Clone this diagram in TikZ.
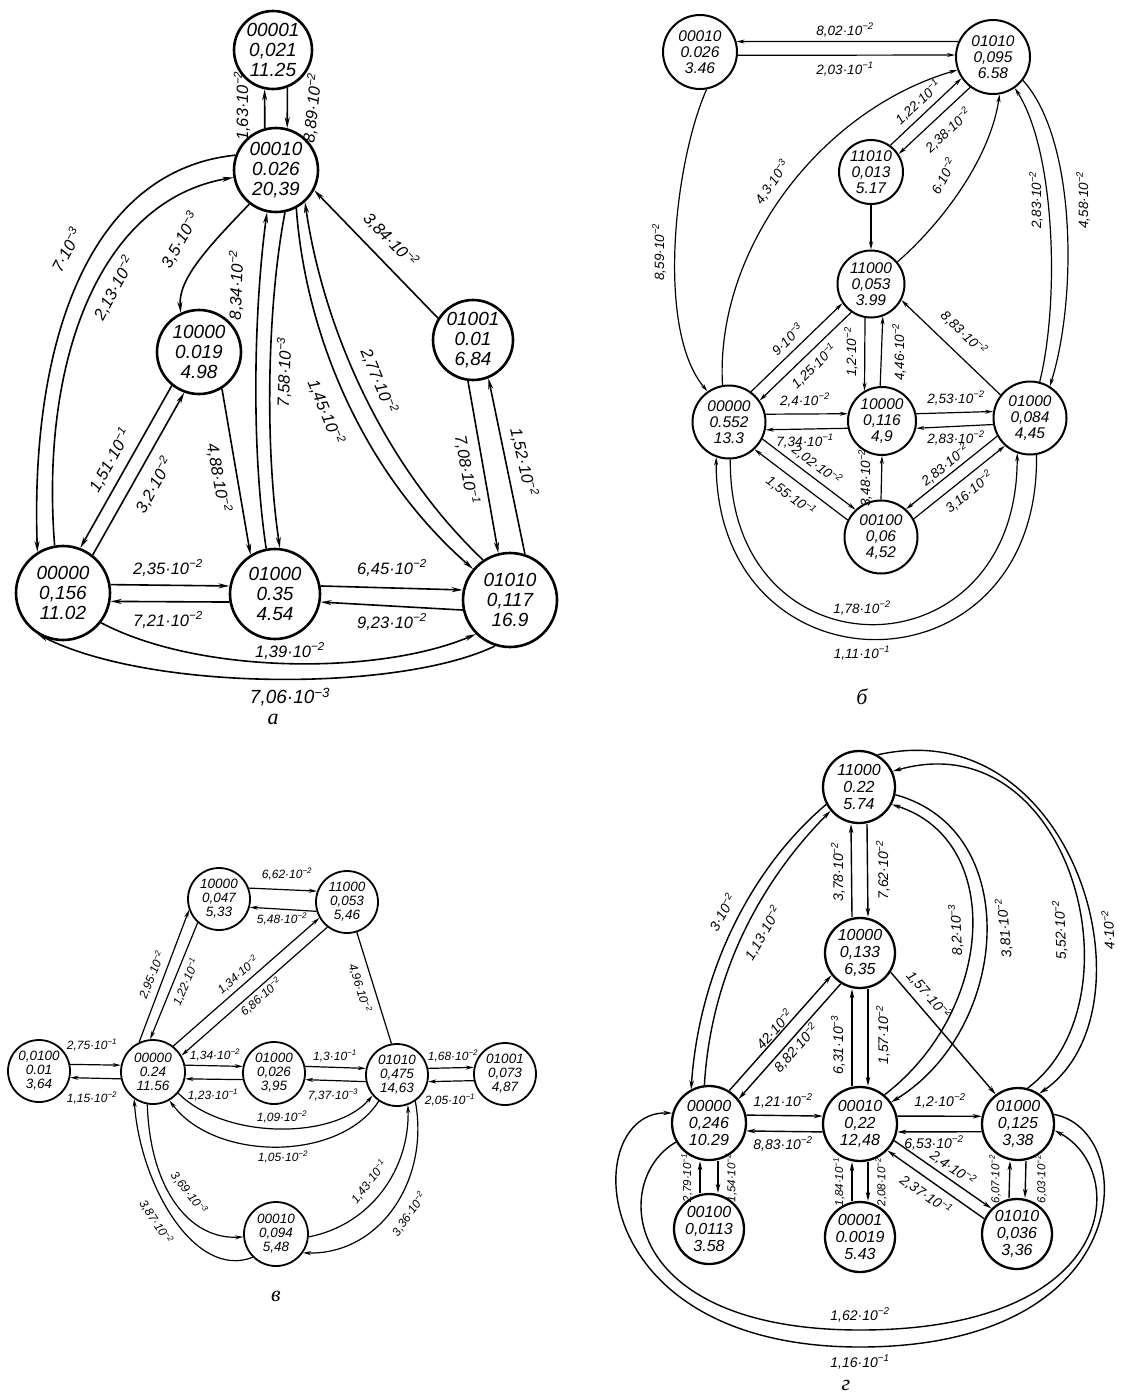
\documentclass[tikz,border=0pt]{standalone}
\usepackage{fontspec}
\setmainfont{Liberation Sans}
\newfontfamily\capf{Liberation Serif}
\usetikzlibrary{arrows.meta}
\newcommand\pwr[2]{#1·10\textsuperscript{−#2}}
\begin{document}
\begin{tikzpicture}[x=1pt,y=-1pt,
  nA/.style={circle,draw,line width=2.6pt,inner sep=0pt,align=center,font=\fontsize{19}{20}\selectfont\itshape},
  nB/.style={circle,draw,line width=2pt,inner sep=0pt,align=center,font=\fontsize{15.5}{16}\selectfont\itshape},
  nC/.style={circle,draw,line width=1.8pt,inner sep=0pt,align=center,font=\fontsize{13.5}{14}\selectfont\itshape},
  nD/.style={circle,draw,line width=2.3pt,inner sep=0pt,align=center,font=\fontsize{16}{17}\selectfont\itshape},
  lA/.style={inner sep=0pt,font=\fontsize{16.5}{17}\selectfont\itshape},
  lB/.style={inner sep=0pt,font=\fontsize{13.5}{14}\selectfont\itshape},
  lC/.style={inner sep=0pt,font=\fontsize{12}{12}\selectfont\itshape},
  lD/.style={inner sep=0pt,font=\fontsize{14}{14}\selectfont\itshape},
  lDs/.style={inner sep=0pt,font=\fontsize{11.5}{12}\selectfont\itshape},
  eA/.style={line width=1.6pt,-{Stealth[length=11pt,width=5pt]}},
  eB/.style={line width=1.2pt,-{Stealth[length=8pt,width=4pt]}},
  eC/.style={line width=1.2pt,-{Stealth[length=8pt,width=4pt]}},
  eD/.style={line width=1.4pt,-{Stealth[length=9pt,width=4.5pt]}},
  capsty/.style={font=\fontsize{22}{22}\selectfont\capf\itshape}]
\useasboundingbox (0,0) rectangle (1121,1395);
\fill[white] (0,0) rectangle (1121,1395);
% ================= panel a =================
\node[nA,minimum size=78pt] (A1) at (273,50) {00001\\0,021\\11.25};
\node[nA,minimum size=84pt] (A2) at (276,170) {00010\\0.026\\20,39};
\node[nA,minimum size=84pt] (A3) at (199,352) {10000\\0.019\\4.98};
\node[nA,minimum size=80pt] (A4) at (473,340) {01001\\0.01\\6,84};
\node[nA,minimum size=94pt] (A5) at (63,593) {00000\\0,156\\11.02};
\node[nA,minimum size=90pt] (A6) at (275,594) {01000\\0.35\\4.54};
\node[nA,minimum size=94pt] (A7) at (510,600) {01010\\0,117\\16.9};
\draw[eA] (A2.105) -- (A1.258);
\draw[eA] (A1.291) -- (A2.75);
\node[lA,rotate=90] (la1) at (242,106) {\pwr{1,63}{2}};
\node[lA,rotate=84] (la2) at (312,108) {\pwr{8,89}{2}};
\draw[eA] (A2.160) .. controls (90,170) and (30,340) .. (A5.122);
\draw[eA] (A5.100) .. controls (40,360) and (100,200) .. (A2.190);
\node[lA,rotate=62] (la3) at (66,250) {\pwr{7}{3}};
\node[lA,rotate=62] (la4) at (114,288) {\pwr{2,13}{2}};
\draw[eA] (A2.232) .. controls (205,250) and (178,280) .. (A3.115);
\node[lA,rotate=60] (la5) at (180,240) {\pwr{3,5}{3}};
\draw[eA] (A6.101) .. controls (250,440) and (255,300) .. (A2.258);
\draw[eA] (A2.282) .. controls (268,300) and (264,440) .. (A6.84);
\node[lA,rotate=88] (la6) at (236,285) {\pwr{8,34}{2}};
\node[lA,rotate=88] (la7) at (284,372) {\pwr{7,58}{3}};
\draw[eA] (A2.298) .. controls (305,330) and (360,470) .. (A7.140);
\draw[eA] (A7.124) .. controls (378,460) and (322,320) .. (A2.312);
\node[lA,rotate=-68] (la8) at (326,412) {\pwr{1,45}{2}};
\node[lA,rotate=-68] (la9) at (379,381) {\pwr{2,77}{2}};
\draw[eA] (A4.148) -- (A2.-28);
\node[lA,rotate=-46] (la10) at (391,240) {\pwr{3,84}{2}};
\draw[eA] (A4.-97) -- (A7.104);
\draw[eA] (A7.72) -- (A4.-68);
\node[lA,rotate=-80] (la11) at (467,470) {\pwr{7,08}{1}};
\node[lA,rotate=-77] (la12) at (524,462) {\pwr{1,52}{2}};
\draw[eA] (A3.231) -- (A5.69);
\draw[eA] (A5.52) -- (A3.250);
\node[lA,rotate=61] (la13) at (110,460) {\pwr{1,51}{1}};
\node[lA,rotate=61] (la14) at (154,485) {\pwr{3,2}{2}};
\draw[eA] (A3.-58) -- (A6.122);
\node[lA,rotate=-80] (la15) at (219,478) {\pwr{4,88}{2}};
\draw[eA] (A5.10) -- (A6.170);
\draw[eA] (A6.190) -- (A5.350);
\node[lA] (la16) at (168,568) {\pwr{2,35}{2}};
\node[lA] (la17) at (168,620) {\pwr{7,21}{2}};
\draw[eA] (A6.10) -- (A7.168);
\draw[eA] (A7.192) -- (A6.350);
\node[lA] (la18) at (392,568) {\pwr{6,45}{2}};
\node[lA] (la19) at (392,622) {\pwr{9,23}{2}};
\draw[eA] (A5.-38) .. controls (200,675) and (380,675) .. (A7.-135);
\draw[eA] (A7.-108) .. controls (400,692) and (150,692) .. (A5.-122);
\node[lA] (la20) at (290,651) {\pwr{1,39}{2}};
\node[lA,font=\fontsize{19}{19}\selectfont\itshape] (la21) at (290,697) {\pwr{7,06}{3}};
\node[capsty] (capa) at (273,719) {а};
% ================= panel b =================
\node[nB,minimum size=74pt] (B1) at (700,52) {00010\\0.026\\3.46};
\node[nB,minimum size=74pt] (B2) at (993,57) {01010\\0,095\\6.58};
\node[nB,minimum size=64pt] (B3) at (871,172) {11010\\0,013\\5.17};
\node[nB,minimum size=67pt] (B4) at (871,284) {11000\\0,053\\3.99};
\node[nB,minimum size=73pt] (B5) at (729,422) {00000\\0.552\\13.3};
\node[nB,minimum size=68pt] (B6) at (882,421) {10000\\0,116\\4,9};
\node[nB,minimum size=73pt] (B7) at (1030,418) {01000\\0,084\\4,45};
\node[nB,minimum size=73pt] (B8) at (881,537) {00100\\0,06\\4,52};
\draw[eB] (B2.156) -- (B1.16);
\draw[eB] (B1.-5) -- (B2.177);
\node[lB] (lb1) at (845,30) {\pwr{8,02}{2}};
\node[lB] (lb2) at (845,69) {\pwr{2,03}{1}};
\draw[eB] (B1.-80) .. controls (675,160) and (655,330) .. (B5.125);
\node[lB,rotate=90] (lb3) at (659,252) {\pwr{8,59}{2}};
\draw[eB] (B5.100) .. controls (715,250) and (820,110) .. (B2.200);
\node[lB,rotate=55] (lb4) at (772,182) {\pwr{4,3}{3}};
\draw[eB] (B3.54) -- (B2.214);
\draw[eB] (B2.233) -- (B3.33);
\node[lB,rotate=43] (lb5) at (918,102) {\pwr{1,22}{1}};
\node[lB,rotate=43] (lb6) at (948,130) {\pwr{2,38}{2}};
\draw[eB] (B3.south) -- (B4.north);
\draw[eB] (B4.40) .. controls (940,225) and (990,160) .. (B2.-80);
\node[lB,rotate=62] (lb7) at (943,176) {\pwr{6}{2}};
\draw[eB] (B7.75) .. controls (1060,300) and (1055,150) .. (B2.-55);
\draw[eB] (B2.-38) .. controls (1077,140) and (1077,300) .. (B7.58);
\node[lB,rotate=90] (lb8) at (1036,200) {\pwr{2,83}{2}};
\node[lB,rotate=90] (lb9) at (1083,200) {\pwr{4,58}{2}};
\draw[eB] (B5.54) -- (B4.214);
\draw[eB] (B4.235) -- (B5.35);
\node[lB,rotate=44] (lb10) at (787,339) {\pwr{9}{3}};
\node[lB,rotate=44] (lb11) at (814,366) {\pwr{1,25}{1}};
\draw[eB] (B4.-100) -- (B6.120);
\draw[eB] (B6.93) -- (B4.-70);
\node[lB,rotate=90] (lb12) at (851,352) {\pwr{1,2}{2}};
\node[lB,rotate=90] (lb13) at (899,352) {\pwr{4,46}{2}};
\draw[eB] (B7.142) -- (B4.-28);
\node[lB,rotate=-44] (lb14) at (964,333) {\pwr{8,83}{2}};
\draw[eB] (B5.12) -- (B6.168);
\draw[eB] (B6.192) -- (B5.-12);
\node[lB] (lb15) at (805,400) {\pwr{2,4}{2}};
\node[lB] (lb16) at (805,441) {\pwr{7,34}{1}};
\draw[eB] (B6.12) -- (B7.170);
\draw[eB] (B7.190) -- (B6.-12);
\node[lB] (lb17) at (956,398) {\pwr{2,53}{2}};
\node[lB] (lb18) at (956,438) {\pwr{2,83}{2}};
\draw[eB] (B5.-27) -- (B8.133);
\draw[eB] (B8.153) -- (B5.-47);
\node[lB,rotate=-37] (lb19) at (817,465) {\pwr{2,02}{2}};
\node[lB,rotate=-37] (lb20) at (791,496) {\pwr{1,55}{1}};
\draw[eB] (B8.north) -- (B6.south);
\node[lB,rotate=90] (lb21) at (865,478) {\pwr{3,48}{2}};
\draw[eB] (B7.209) -- (B8.48);
\draw[eB] (B8.29) -- (B7.228);
\node[lB,rotate=39] (lb22) at (945,465) {\pwr{2,83}{2}};
\node[lB,rotate=39] (lb23) at (969,492) {\pwr{3,16}{2}};
\draw[eB] (B5.-88) .. controls (728,680) and (1018,680) .. (B7.-110);
\draw[eB] (B7.-80) .. controls (1040,700) and (715,700) .. (B5.-110);
\node[lB] (lb24) at (862,608) {\pwr{1,78}{2}};
\node[lB] (lb25) at (862,653) {\pwr{1,11}{1}};
\node[capsty] (capb) at (862,697) {б};
% ================= panel v =================
\node[nC,minimum size=62pt] (C1) at (39,1071) {0,0100\\0.01\\3,64};
\node[nC,minimum size=64pt] (C2) at (153,1072) {00000\\0.24\\11.56};
\node[nC,minimum size=62pt] (C3) at (219,899) {10000\\0,047\\5,33};
\node[nC,minimum size=62pt] (C4) at (347,902) {11000\\0,053\\5,46};
\node[nC,minimum size=62pt] (C5) at (274,1073) {01000\\0,026\\3,95};
\node[nC,minimum size=62pt] (C6) at (397,1075) {01010\\0,475\\14,63};
\node[nC,minimum size=62pt] (C7) at (505,1074) {01001\\0,073\\4,87};
\node[nC,minimum size=64pt] (C8) at (276,1234) {00010\\0,094\\5,48};
\draw[eC] (C1.12) -- (C2.168);
\draw[eC] (C2.192) -- (C1.-12);
\node[lC] (lc1) at (92,1045) {\pwr{2,75}{1}};
\node[lC] (lc2) at (92,1098) {\pwr{1,15}{2}};
\draw[eC] (C2.115) -- (C3.200);
\draw[eC] (C3.228) -- (C2.95);
\node[lC,rotate=68] (lc3) at (152,975) {\pwr{2,95}{2}};
\node[lC,rotate=67] (lc4) at (186,982) {\pwr{1,22}{1}};
\draw[eC] (C3.20) -- (C4.160);
\draw[eC] (C4.197) -- (C3.-15);
\node[lC] (lc5) at (287,874) {\pwr{6,62}{2}};
\node[lC] (lc6) at (282,919) {\pwr{5,48}{2}};
\draw[eC] (C2.52) -- (C4.210);
\draw[eC] (C4.232) -- (C2.30);
\node[lC,rotate=41] (lc7) at (238,975) {\pwr{1,34}{2}};
\node[lC,rotate=41] (lc8) at (261,997) {\pwr{6,86}{2}};
\draw[eC,-] (C4.-72) -- (C6.100);
\node[lC,rotate=-73] (lc9) at (360,988) {\pwr{4,96}{2}};
\draw[eC] (C2.12) -- (C5.168);
\draw[eC] (C5.192) -- (C2.-12);
\node[lC] (lc10) at (215,1055) {\pwr{1,34}{2}};
\node[lC] (lc11) at (213,1095) {\pwr{1,23}{1}};
\draw[eC] (C5.12) -- (C6.168);
\draw[eC] (C6.192) -- (C5.-12);
\node[lC] (lc12) at (335,1056) {\pwr{1,3}{1}};
\node[lC] (lc13) at (333,1095) {\pwr{7,37}{3}};
\draw[eC] (C6.12) -- (C7.168);
\draw[eC] (C7.192) -- (C6.-12);
\node[lC] (lc14) at (453,1056) {\pwr{1,68}{2}};
\node[lC] (lc15) at (450,1100) {\pwr{2,05}{1}};
\draw[eC] (C2.-40) .. controls (225,1140) and (335,1140) .. (C6.-140);
\draw[eC] (C6.-125) .. controls (340,1162) and (215,1162) .. (C2.-60);
\node[lC] (lc16) at (282,1117) {\pwr{1,09}{2}};
\node[lC] (lc17) at (283,1157) {\pwr{1,05}{2}};
\draw[eC] (C8.225) .. controls (195,1280) and (140,1185) .. (C2.-125);
\draw[eC] (C2.-100) .. controls (150,1190) and (190,1240) .. (C8.185);
\node[lC,rotate=-57] (lc18) at (156,1222) {\pwr{3,87}{2}};
\node[lC,rotate=-52] (lc19) at (189,1193) {\pwr{3,69}{3}};
\draw[eC] (C8.-5) .. controls (370,1225) and (410,1170) .. (C6.-70);
\draw[eC] (C6.-55) .. controls (430,1180) and (380,1255) .. (C8.-35);
\node[lC,rotate=52] (lc20) at (369,1182) {\pwr{1,43}{1}};
\node[lC,rotate=55] (lc21) at (409,1214) {\pwr{3,36}{2}};
\node[capsty] (capv) at (276,1296) {в};
% ================= panel g =================
\node[nD,minimum size=72pt] (D1) at (859,787) {11000\\0.22\\5.74};
\node[nD,minimum size=70pt] (D2) at (860,953) {10000\\0,133\\6,35};
\node[nD,minimum size=74pt] (D3) at (709,1123) {00000\\0,246\\10.29};
\node[nD,minimum size=74pt] (D4) at (860,1124) {00010\\0,22\\12,48};
\node[nD,minimum size=72pt] (D5) at (1018,1124) {01000\\0,125\\3,38};
\node[nD,minimum size=70pt] (D6) at (709,1229) {00100\\0,0113\\3.58};
\node[nD,minimum size=70pt] (D7) at (860,1237) {00001\\0.0019\\5.43};
\node[nD,minimum size=70pt] (D8) at (1017,1234) {01010\\0,036\\3,36};
\draw[eD] ([xshift=-8pt]D2.north) -- ([xshift=-8pt]D1.south);
\draw[eD] ([xshift=8pt]D1.south) -- ([xshift=8pt]D2.north);
\node[lD,rotate=90] (ld1) at (838,872) {\pwr{3,78}{2}};
\node[lD,rotate=90] (ld2) at (883,870) {\pwr{7,62}{2}};
\draw[eD] (D3.58) -- (D2.218);
\draw[eD] (D2.238) -- (D3.39);
\node[lD,rotate=48] (ld3) at (774,1029) {\pwr{42}{2}};
\node[lD,rotate=48] (ld4) at (796,1048) {\pwr{8,82}{2}};
\draw[eD] (D1.208) .. controls (760,860) and (700,960) .. (D3.118);
\draw[eD] (D3.97) .. controls (712,960) and (772,870) .. (D1.220);
\node[lD,rotate=60] (ld5) at (722,912) {\pwr{3}{2}};
\node[lD,rotate=60] (ld6) at (763,933) {\pwr{1,13}{2}};
\draw[eD] ([xshift=-8pt]D4.north) -- ([xshift=-8pt]D2.south);
\draw[eD] ([xshift=8pt]D2.south) -- ([xshift=8pt]D4.north);
\node[lD,rotate=90] (ld7) at (838,1045) {\pwr{6,31}{3}};
\node[lD,rotate=90] (ld8) at (883,1035) {\pwr{1,57}{2}};
\draw[eD] (D2.-32) -- (D5.127);
\node[lD,rotate=-49] (ld9) at (929,995) {\pwr{1,57}{2}};
\draw[eD] (D4.50) .. controls (995,1010) and (1005,840) .. (D1.-28);
\draw[eD] (D1.-12) .. controls (1025,830) and (1010,1030) .. (D4.35);
\node[lD,rotate=92] (ld10) at (956,930) {\pwr{8,2}{3}};
\node[lD,rotate=95] (ld11) at (1004,928) {\pwr{3,81}{2}};
\draw[eD] (D1.60) .. controls (1075,710) and (1160,1010) .. (D5.55);
\draw[eD] (D5.75) .. controls (1145,1000) and (1070,720) .. (D1.25);
\node[lD,rotate=92] (ld12) at (1060,930) {\pwr{5,52}{2}};
\node[lD,rotate=92] (ld13) at (1108,930) {\pwr{4}{2}};
\draw[eD] (D3.12) -- (D4.168);
\draw[eD] (D4.192) -- (D3.-12);
\node[lD] (ld14) at (783,1101) {\pwr{1,21}{2}};
\node[lD] (ld15) at (783,1144) {\pwr{8,83}{2}};
\draw[eD] (D4.12) -- (D5.168);
\draw[eD] (D5.192) -- (D4.-12);
\node[lD] (ld16) at (940,1101) {\pwr{1,2}{2}};
\node[lD] (ld17) at (934,1143) {\pwr{6,53}{2}};
\draw[eD] ([xshift=-9pt]D6.north) -- ([xshift=-9pt]D3.south);
\draw[eD] ([xshift=9pt]D3.south) -- ([xshift=9pt]D6.north);
\node[lDs,rotate=90] (ld18) at (687,1178) {\pwr{2,79}{1}};
\node[lDs,rotate=90] (ld19) at (731,1178) {\pwr{1,54}{2}};
\draw[eD] ([xshift=-8pt]D7.north) -- ([xshift=-8pt]D4.south);
\draw[eD] ([xshift=8pt]D4.south) -- ([xshift=8pt]D7.north);
\node[lDs,rotate=90] (ld20) at (839,1182) {\pwr{1,84}{1}};
\node[lDs,rotate=90] (ld21) at (881,1182) {\pwr{2,08}{2}};
\draw[eD] (D4.-26) -- (D8.135);
\draw[eD] (D8.155) -- (D4.-44);
\node[lD,rotate=-35] (ld22) at (953,1168) {\pwr{2,4}{2}};
\node[lD,rotate=-35] (ld23) at (926,1195) {\pwr{2,37}{1}};
\draw[eD] ([xshift=-8pt]D8.north) -- ([xshift=-8pt]D5.south);
\draw[eD] ([xshift=8pt]D5.south) -- ([xshift=8pt]D8.north);
\node[lDs,rotate=90] (ld24) at (995,1179) {\pwr{6,07}{2}};
\node[lDs,rotate=90] (ld25) at (1041,1179) {\pwr{6,03}{2}};
\coordinate (gbo) at (860,1347);
\coordinate (gbi) at (860,1330);
\draw[eD] (D5.15) .. controls (1140,1130) and (1140,1347) .. (gbo) .. controls (580,1347) and (580,1110) .. (D3.165);
\draw[eD] (D3.-150) .. controls (610,1180) and (620,1330) .. (gbi) .. controls (1120,1330) and (1130,1170) .. (D5.-10);
\node[lD] (ld26) at (860,1315) {\pwr{1,62}{2}};
\node[lD] (ld27) at (860,1362) {\pwr{1,16}{1}};
\node[capsty] (capg) at (846,1385) {г};
\end{tikzpicture}
\end{document}
